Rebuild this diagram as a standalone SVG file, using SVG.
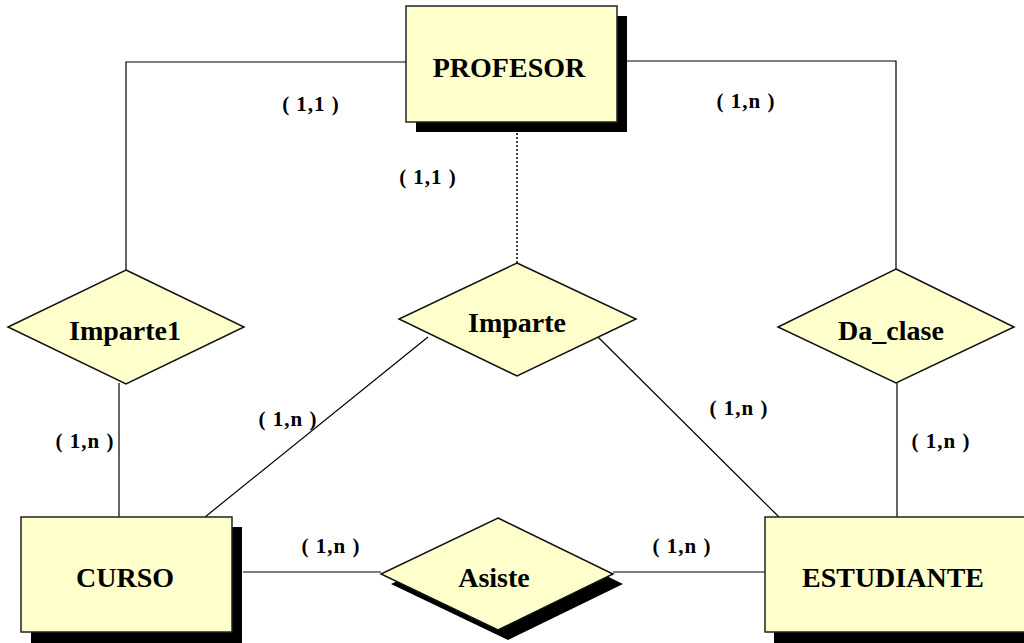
<svg xmlns="http://www.w3.org/2000/svg" width="1024" height="643" viewBox="0 0 1024 643">
<style>
.ent{fill:#FFFFCC;stroke:#222;stroke-width:1.5}
.shd{fill:#000}
.rel{fill:#FFFFCC;stroke:#111;stroke-width:1.5}
.t{font-family:'Liberation Serif','DejaVu Serif',serif;font-weight:bold;font-size:28px;fill:#000;text-anchor:middle}
.c{font-family:'Liberation Serif','DejaVu Serif',serif;font-weight:bold;font-size:21px;fill:#000;text-anchor:middle;letter-spacing:1px}
.ln{fill:none;stroke:#000;stroke-width:1.2}
.dot{fill:none;stroke:#000;stroke-width:1.5;stroke-dasharray:2 2}
</style>
<rect width="1024" height="643" fill="#fff"/>
<g id="connectors">
<polyline class="ln" points="406,62 126,62 126,270"/>
<polyline class="ln" points="617,61 896,61 896,269"/>
<line class="dot" x1="517" y1="133" x2="517" y2="263"/>
<line class="ln" x1="119" y1="383" x2="119" y2="517"/>
<line class="ln" x1="897" y1="383" x2="897" y2="517"/>
<line class="ln" x1="428" y1="337" x2="205" y2="517"/>
<line class="ln" x1="598" y1="337" x2="779" y2="517"/>
<line class="ln" x1="243" y1="572" x2="381" y2="572"/>
<line class="ln" x1="613" y1="572" x2="765" y2="572"/>
</g>
<g id="profesor">
<rect class="shd" x="416" y="16" width="211" height="116"/>
<rect class="ent" x="406" y="6" width="211" height="116"/>
<text class="t" x="509" y="77">PROFESOR</text>
</g>
<g id="curso">
<rect class="shd" x="31" y="527" width="211" height="120"/>
<rect class="ent" x="21" y="517" width="211" height="115"/>
<text class="t" x="125" y="587">CURSO</text>
</g>
<g id="estudiante">
<rect class="shd" x="774" y="527" width="270" height="120"/>
<rect class="ent" x="765" y="517" width="270" height="115"/>
<text class="t" x="893" y="587">ESTUDIANTE</text>
</g>
<g id="imparte1">
<polygon class="rel" points="126,270 244,327 126,384 8,327"/>
<text class="t" x="125" y="340">Imparte1</text>
</g>
<g id="imparte">
<polygon class="rel" points="517,263 636,319 517,376 399,319"/>
<text class="t" x="517" y="332">Imparte</text>
</g>
<g id="da_clase">
<polygon class="rel" points="896,269 1014,327 896,383 778,327"/>
<text class="t" x="891" y="340">Da_clase</text>
</g>
<g id="asiste">
<polygon class="shd" points="508,528 623,584 508,640 391,584"/>
<polygon class="rel" points="498,518 613,574 498,630 381,574"/>
<text class="t" x="494" y="587">Asiste</text>
</g>
<g id="cardinalities">
<text class="c" x="311" y="111">( 1,1 )</text>
<text class="c" x="746" y="108">( 1,n )</text>
<text class="c" x="428" y="184">( 1,1 )</text>
<text class="c" x="85" y="448">( 1,n )</text>
<text class="c" x="288" y="426">( 1,n )</text>
<text class="c" x="739" y="415">( 1,n )</text>
<text class="c" x="941" y="448">( 1,n )</text>
<text class="c" x="331" y="553">( 1,n )</text>
<text class="c" x="682" y="553">( 1,n )</text>
</g>
</svg>
